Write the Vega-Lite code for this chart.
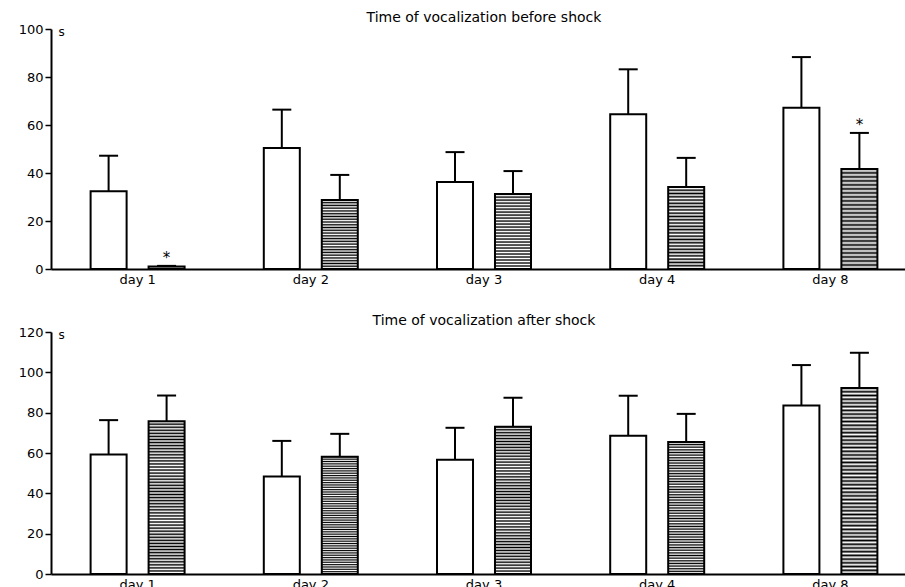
{
  "$schema": "https://vega.github.io/schema/vega-lite/v6.json",
  "padding": {"left": 18, "top": 11, "right": 0, "bottom": 0},
  "spacing": 28,
  "background": "white",
  "config": {
    "view": {"stroke": null},
    "font": "DejaVu Sans",
    "title": {"font": "DejaVu Sans", "fontSize": 14, "fontWeight": "normal", "color": "black", "anchor": "middle", "offset": -2},
    "axis": {"labelFont": "DejaVu Sans", "labelFontSize": 13, "labelColor": "black", "domainColor": "black", "domainWidth": 2, "tickColor": "black", "tickWidth": 1.5, "grid": false}
  },
  "datasets": {
    "before": [
      {"day": "day 1", "group": "control", "mean": 32.4, "err": 47.2, "sig": ""},
      {"day": "day 1", "group": "treated", "mean": 1.0, "err": 1.3, "sig": "*"},
      {"day": "day 2", "group": "control", "mean": 50.4, "err": 66.4, "sig": ""},
      {"day": "day 2", "group": "treated", "mean": 28.8, "err": 39.2, "sig": ""},
      {"day": "day 3", "group": "control", "mean": 36.2, "err": 48.7, "sig": ""},
      {"day": "day 3", "group": "treated", "mean": 31.2, "err": 40.8, "sig": ""},
      {"day": "day 4", "group": "control", "mean": 64.5, "err": 83.2, "sig": ""},
      {"day": "day 4", "group": "treated", "mean": 34.2, "err": 46.3, "sig": ""},
      {"day": "day 8", "group": "control", "mean": 67.2, "err": 88.3, "sig": ""},
      {"day": "day 8", "group": "treated", "mean": 41.7, "err": 56.7, "sig": "*"}
    ],
    "after": [
      {"day": "day 1", "group": "control", "mean": 59.2, "err": 76.3, "sig": ""},
      {"day": "day 1", "group": "treated", "mean": 75.8, "err": 88.5, "sig": ""},
      {"day": "day 2", "group": "control", "mean": 48.3, "err": 66.0, "sig": ""},
      {"day": "day 2", "group": "treated", "mean": 58.1, "err": 69.5, "sig": ""},
      {"day": "day 3", "group": "control", "mean": 56.6, "err": 72.5, "sig": ""},
      {"day": "day 3", "group": "treated", "mean": 73.0, "err": 87.4, "sig": ""},
      {"day": "day 4", "group": "control", "mean": 68.5, "err": 88.4, "sig": ""},
      {"day": "day 4", "group": "treated", "mean": 65.5, "err": 79.4, "sig": ""},
      {"day": "day 8", "group": "control", "mean": 83.6, "err": 103.6, "sig": ""},
      {"day": "day 8", "group": "treated", "mean": 92.2, "err": 109.7, "sig": ""}
    ]
  },
  "vconcat": [
    {
      "title": "Time of vocalization before shock",
      "width": 866,
      "height": 240,
      "data": {"name": "before"},
      "encoding": {
        "x": {"field": "day", "type": "nominal", "sort": ["day 1", "day 2", "day 3", "day 4", "day 8"], "scale": {"paddingInner": 0, "paddingOuter": 0}, "axis": {"title": null, "labelAngle": 0, "ticks": false, "labelPadding": 4}},
        "xOffset": {"field": "group", "type": "nominal", "scale": {"domain": ["control", "treated"], "paddingInner": 0.379, "paddingOuter": 0.683}}
      },
      "layer": [
        {"mark": {"type": "rule", "strokeWidth": 2, "color": "black"}, "encoding": {"y": {"field": "mean", "type": "quantitative"}, "y2": {"field": "err"}}},
        {"mark": {"type": "tick", "orient": "horizontal", "thickness": 2, "size": 19, "color": "black", "opacity": 1}, "encoding": {"y": {"field": "err", "type": "quantitative"}}},
        {"transform": [{"filter": "datum.group === 'control'"}], "mark": {"type": "bar", "fill": "white", "stroke": "black", "strokeWidth": 2}, "encoding": {"y": {"field": "mean", "type": "quantitative", "scale": {"domain": [0, 100], "nice": false}, "axis": {"values": [0, 20, 40, 60, 80, 100], "tickSize": 6, "labelPadding": 2, "title": "s", "titleAngle": 0, "titleX": 7, "titleY": 2, "titleAlign": "left", "titleBaseline": "middle", "titleFont": "DejaVu Sans", "titleFontSize": 12, "titleFontWeight": "normal", "titleColor": "black"}}}},
        {"transform": [{"filter": "datum.group === 'treated'"}], "mark": {"type": "bar", "stroke": "black", "strokeWidth": 2, "fill": {"gradient": "linear", "x1": 0, "y1": 0, "x2": 0, "y2": 1, "stops": [
          {"offset": 0, "color": "#000"}, {"offset": 0.02, "color": "#fff"}, {"offset": 0.04, "color": "#000"}, {"offset": 0.06, "color": "#fff"}, {"offset": 0.08, "color": "#000"}, {"offset": 0.1, "color": "#fff"}, {"offset": 0.12, "color": "#000"}, {"offset": 0.14, "color": "#fff"}, {"offset": 0.16, "color": "#000"}, {"offset": 0.18, "color": "#fff"}, {"offset": 0.2, "color": "#000"}, {"offset": 0.22, "color": "#fff"}, {"offset": 0.24, "color": "#000"}, {"offset": 0.26, "color": "#fff"}, {"offset": 0.28, "color": "#000"}, {"offset": 0.3, "color": "#fff"}, {"offset": 0.32, "color": "#000"}, {"offset": 0.34, "color": "#fff"}, {"offset": 0.36, "color": "#000"}, {"offset": 0.38, "color": "#fff"}, {"offset": 0.4, "color": "#000"}, {"offset": 0.42, "color": "#fff"}, {"offset": 0.44, "color": "#000"}, {"offset": 0.46, "color": "#fff"}, {"offset": 0.48, "color": "#000"}, {"offset": 0.5, "color": "#fff"}, {"offset": 0.52, "color": "#000"}, {"offset": 0.54, "color": "#fff"}, {"offset": 0.56, "color": "#000"}, {"offset": 0.58, "color": "#fff"}, {"offset": 0.6, "color": "#000"}, {"offset": 0.62, "color": "#fff"}, {"offset": 0.64, "color": "#000"}, {"offset": 0.66, "color": "#fff"}, {"offset": 0.68, "color": "#000"}, {"offset": 0.7, "color": "#fff"}, {"offset": 0.72, "color": "#000"}, {"offset": 0.74, "color": "#fff"}, {"offset": 0.76, "color": "#000"}, {"offset": 0.78, "color": "#fff"}, {"offset": 0.8, "color": "#000"}, {"offset": 0.82, "color": "#fff"}, {"offset": 0.84, "color": "#000"}, {"offset": 0.86, "color": "#fff"}, {"offset": 0.88, "color": "#000"}, {"offset": 0.9, "color": "#fff"}, {"offset": 0.92, "color": "#000"}, {"offset": 0.94, "color": "#fff"}, {"offset": 0.96, "color": "#000"}, {"offset": 0.98, "color": "#fff"}, {"offset": 1, "color": "#000"}
        ]}}, "encoding": {"y": {"field": "mean", "type": "quantitative"}}},
        {"mark": {"type": "text", "fontSize": 15, "color": "black", "baseline": "alphabetic", "dy": -3}, "encoding": {"y": {"field": "err", "type": "quantitative"}, "text": {"field": "sig"}}}
      ]
    },
    {
      "title": "Time of vocalization after shock",
      "width": 866,
      "height": 242,
      "data": {"name": "after"},
      "encoding": {
        "x": {"field": "day", "type": "nominal", "sort": ["day 1", "day 2", "day 3", "day 4", "day 8"], "scale": {"paddingInner": 0, "paddingOuter": 0}, "axis": {"title": null, "labelAngle": 0, "ticks": false, "labelPadding": 4}},
        "xOffset": {"field": "group", "type": "nominal", "scale": {"domain": ["control", "treated"], "paddingInner": 0.379, "paddingOuter": 0.683}}
      },
      "layer": [
        {"mark": {"type": "rule", "strokeWidth": 2, "color": "black"}, "encoding": {"y": {"field": "mean", "type": "quantitative"}, "y2": {"field": "err"}}},
        {"mark": {"type": "tick", "orient": "horizontal", "thickness": 2, "size": 19, "color": "black", "opacity": 1}, "encoding": {"y": {"field": "err", "type": "quantitative"}}},
        {"transform": [{"filter": "datum.group === 'control'"}], "mark": {"type": "bar", "fill": "white", "stroke": "black", "strokeWidth": 2}, "encoding": {"y": {"field": "mean", "type": "quantitative", "scale": {"domain": [0, 120], "nice": false}, "axis": {"values": [0, 20, 40, 60, 80, 100, 120], "tickSize": 6, "labelPadding": 2, "title": "s", "titleAngle": 0, "titleX": 7, "titleY": 2, "titleAlign": "left", "titleBaseline": "middle", "titleFont": "DejaVu Sans", "titleFontSize": 12, "titleFontWeight": "normal", "titleColor": "black"}}}},
        {"transform": [{"filter": "datum.group === 'treated'"}], "mark": {"type": "bar", "stroke": "black", "strokeWidth": 2, "fill": {"gradient": "linear", "x1": 0, "y1": 0, "x2": 0, "y2": 1, "stops": [
          {"offset": 0, "color": "#000"}, {"offset": 0.01, "color": "#fff"}, {"offset": 0.02, "color": "#000"}, {"offset": 0.03, "color": "#fff"}, {"offset": 0.04, "color": "#000"}, {"offset": 0.05, "color": "#fff"}, {"offset": 0.06, "color": "#000"}, {"offset": 0.07, "color": "#fff"}, {"offset": 0.08, "color": "#000"}, {"offset": 0.09, "color": "#fff"},
          {"offset": 0.1, "color": "#000"}, {"offset": 0.11, "color": "#fff"}, {"offset": 0.12, "color": "#000"}, {"offset": 0.13, "color": "#fff"}, {"offset": 0.14, "color": "#000"}, {"offset": 0.15, "color": "#fff"}, {"offset": 0.16, "color": "#000"}, {"offset": 0.17, "color": "#fff"}, {"offset": 0.18, "color": "#000"}, {"offset": 0.19, "color": "#fff"},
          {"offset": 0.2, "color": "#000"}, {"offset": 0.21, "color": "#fff"}, {"offset": 0.22, "color": "#000"}, {"offset": 0.23, "color": "#fff"}, {"offset": 0.24, "color": "#000"}, {"offset": 0.25, "color": "#fff"}, {"offset": 0.26, "color": "#000"}, {"offset": 0.27, "color": "#fff"}, {"offset": 0.28, "color": "#000"}, {"offset": 0.29, "color": "#fff"},
          {"offset": 0.3, "color": "#000"}, {"offset": 0.31, "color": "#fff"}, {"offset": 0.32, "color": "#000"}, {"offset": 0.33, "color": "#fff"}, {"offset": 0.34, "color": "#000"}, {"offset": 0.35, "color": "#fff"}, {"offset": 0.36, "color": "#000"}, {"offset": 0.37, "color": "#fff"}, {"offset": 0.38, "color": "#000"}, {"offset": 0.39, "color": "#fff"},
          {"offset": 0.4, "color": "#000"}, {"offset": 0.41, "color": "#fff"}, {"offset": 0.42, "color": "#000"}, {"offset": 0.43, "color": "#fff"}, {"offset": 0.44, "color": "#000"}, {"offset": 0.45, "color": "#fff"}, {"offset": 0.46, "color": "#000"}, {"offset": 0.47, "color": "#fff"}, {"offset": 0.48, "color": "#000"}, {"offset": 0.49, "color": "#fff"},
          {"offset": 0.5, "color": "#000"}, {"offset": 0.51, "color": "#fff"}, {"offset": 0.52, "color": "#000"}, {"offset": 0.53, "color": "#fff"}, {"offset": 0.54, "color": "#000"}, {"offset": 0.55, "color": "#fff"}, {"offset": 0.56, "color": "#000"}, {"offset": 0.57, "color": "#fff"}, {"offset": 0.58, "color": "#000"}, {"offset": 0.59, "color": "#fff"},
          {"offset": 0.6, "color": "#000"}, {"offset": 0.61, "color": "#fff"}, {"offset": 0.62, "color": "#000"}, {"offset": 0.63, "color": "#fff"}, {"offset": 0.64, "color": "#000"}, {"offset": 0.65, "color": "#fff"}, {"offset": 0.66, "color": "#000"}, {"offset": 0.67, "color": "#fff"}, {"offset": 0.68, "color": "#000"}, {"offset": 0.69, "color": "#fff"},
          {"offset": 0.7, "color": "#000"}, {"offset": 0.71, "color": "#fff"}, {"offset": 0.72, "color": "#000"}, {"offset": 0.73, "color": "#fff"}, {"offset": 0.74, "color": "#000"}, {"offset": 0.75, "color": "#fff"}, {"offset": 0.76, "color": "#000"}, {"offset": 0.77, "color": "#fff"}, {"offset": 0.78, "color": "#000"}, {"offset": 0.79, "color": "#fff"},
          {"offset": 0.8, "color": "#000"}, {"offset": 0.81, "color": "#fff"}, {"offset": 0.82, "color": "#000"}, {"offset": 0.83, "color": "#fff"}, {"offset": 0.84, "color": "#000"}, {"offset": 0.85, "color": "#fff"}, {"offset": 0.86, "color": "#000"}, {"offset": 0.87, "color": "#fff"}, {"offset": 0.88, "color": "#000"}, {"offset": 0.89, "color": "#fff"},
          {"offset": 0.9, "color": "#000"}, {"offset": 0.91, "color": "#fff"}, {"offset": 0.92, "color": "#000"}, {"offset": 0.93, "color": "#fff"}, {"offset": 0.94, "color": "#000"}, {"offset": 0.95, "color": "#fff"}, {"offset": 0.96, "color": "#000"}, {"offset": 0.97, "color": "#fff"}, {"offset": 0.98, "color": "#000"}, {"offset": 0.99, "color": "#fff"},
          {"offset": 1, "color": "#000"}
        ]}}, "encoding": {"y": {"field": "mean", "type": "quantitative"}}}
      ]
    }
  ]
}
